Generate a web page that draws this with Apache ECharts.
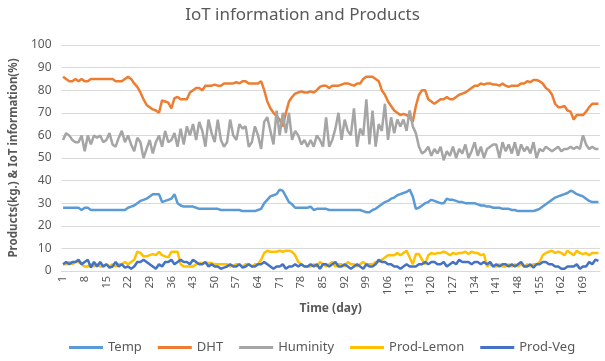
<!DOCTYPE html>
<html>
<head>
<meta charset="utf-8">
<script src="https://cdn.jsdelivr.net/npm/echarts@6/dist/echarts.min.js"></script>
<style>html,body{margin:0;padding:0;background:#fff}#c{width:605px;height:361px}</style>
</head>
<body>
<div id="c"></div>
<script>
const days = Array.from({length:174}, (_, i) => String(i + 1));
const yTicks = [0,10,20,30,40,50,60,70,80,90,100];

const temp = [
28,28,28,28,28,28,27,28,28,27,
27,27,27,27,27,27,27,27,27,27,
27,28,28.5,29,30,31,31.5,32,33,34,
34,34,30.5,31,31.5,32,34,30,29,28.5,
28.5,28.5,28.5,28,27.5,27.5,27.5,27.5,27.5,27.5,
27.5,27,27,27,27,27,27,27,26.5,26.5,
26.5,26.5,26.5,27,27.5,30,31.5,33,33.5,34,
36,35.5,33,30.5,29.5,28,28,28,28,28,
28.5,27,27.5,27.5,27.5,27.5,27,27,27,27,
27,27,27,27,27,27,27,26.5,26,26,
27,27.5,28.5,29.5,30.5,31,32,32.5,33.5,34,
34.5,35,36,33,27.5,28,29,30,30.5,31.5,
31,30.5,30,30,32,31.5,31.5,31,30.5,30.5,
30,30,30,30,29.5,29,29,28.5,28.5,28,
28,28,27.5,27.5,27.5,27,27,26.5,26.5,26.5,
26.5,26.5,26.5,27,27.5,28.5,29.5,30.5,31.5,32.5,
33,33.5,34,34.5,35.5,35,34,33.5,33,32,
31,30.5,30.5,30.5];

const dht = [
86,85,84,84,85,84,85,84,84,85,
85,85,85,85,85,85,85,84,84,84,
85,86,85,83,81.5,79,76,73.5,72.5,71.5,
71,70,75.5,75,74.5,72,76.5,77,76,76,
76,79,80,81,81,80,82,82,82,82.5,
82,82,83,83,83,83,83.5,83,84,84,
83,83,83,83,84,80,75,72,70,68.5,
67,64,70,75,77,78.5,79,79.5,79,79,
79.5,79,80,81.5,82,82,81,82,82,82,
82.5,83,83,82.5,82,83,83,85,86,86,
86,85,84,80,78,75,73,71,70,69,
69.5,69,68,66,73,78,80,80,76,75,
74,75,76,76,77,76,76,77,78,78.5,
79,80,81,82,82,83,82.5,83,83,82.5,
82.5,82,83,82,81.5,82,82,82,83,83,
84,83.5,84.5,84.5,84,83,81,80,78,74,
72.5,72.5,73,71,70.5,67,69,69,69,70.5,
72.5,74,74,74];

const humidity = [
58,61,60,58,57,57,60,53,60,56,
60,59,60,57,58,61,56,55,59,62,
57,60,56,53,59,57,50,54,58,52,
57,60,55,62,57,58,61,55,63,56,
64,60,65,58,66,62,55,67,61,57,
67,58,55,57,67,60,58,65,63,64,
55,57,64,60,54,66,68,62,56,71,
60,70,61,70,58,62,60,56,58,55,
58,55,60,58,55,68,55,58,63,70,
58,67,62,60,72,55,63,60,76,56,
71,55,65,62,74,58,68,61,67,64,
67,62,71,64,61,55,52,53,55,51,
54,52,55,49,53,51,55,50,54,52,
56,50,53,57,51,55,50,54,55,56,
56,50,57,53,56,52,57,51,56,53,
55,52,57,50,54,53,55,54,53,54,
55,53,54,54,55,54,55,54,60,56,
54,55,54,54];

const lemon = [
3,3,4,3,4,4,3,2,2,3,
2,3,2,2,3,2,3,2,3,3,
4,3,4,5,8.5,8,6.5,6.5,7,7.5,
7,8.5,7,6.5,6,8.5,8.5,8.5,3,2,
2,2,2,3,3.5,3.5,3.5,3.5,3.5,3,
3,3,3,3,2,2.5,3,3,2,3,
3,2,3,3,5,8,9,8.5,8.5,8.5,
9,8.5,9,9,8.5,7,4,3,2,2,
2,3,2,4,3,2,3,4,2,3,
3,2,4,3,3,2,3,4,3,3,
3,4,4,5,6,7,7,7,8,7,
8,9,6,3,7.5,7.5,5,3,7,8,
7.5,8,8,8.5,8,7,8,7.5,8,8,
8.5,7.5,8.5,8,8,7,7.5,2,3,2,
2,3,2,2,3,2,3,2,3,2,
3,2,3,3,4,7,8,8.5,9,8,
8.5,8,7,9,8,7,9,8,7.5,8,
7,8,8,8];

const veg = [
3,4,3,4,4,5,3,4,5,1.5,
4,2,4,2,3,1.5,2,4,2,3,
1.5,2,1,2,4,4,5,4,3,2,
1,3,2,4,4,5,3,4,5,4,
4,3,5,4,3,3,4,2,3,2,
2,1,1.5,2,3,2,2,3,1.5,2,
3,2,2,3,3,4,3,2,1,2,
2,3,1,2,2,3,2,3,2,2,
3,2,3,1,3,3,2,3,4,2,
2,3,2,1,2,3,2,1,3,2,
2,3,5,4,4,3,3,2,2,1,
2,3,2,2,2,3,3,4,3,4,
4,3,3,4,2,3,4,3,5,4,
4,4,3,4,4,3,4,3,4,2,
3,2,3,3,2,3,2,3,4,2,
2,3,1.5,3,3,4,4,3,3,2,
2,1,1,2,2,2,3,1,2,2,
4,3,5,4.5];

const names = ['Temp','DHT','Huminity','Prod-Lemon','Prod-Veg'];
const colors = ['#5B9BD5','#ED7D31','#A5A5A5','#FFC000','#4472C4'];
const datasets = [temp, dht, humidity, lemon, veg];

const chart = echarts.init(document.getElementById('c'));
const txt = '#595959';
chart.setOption({
  animation: false,
  textStyle: {fontFamily: 'Noto Sans'},
  title: {
    text: 'IoT information and Products',
    left: 'center', top: 2,
    textStyle: {fontSize: 17, fontWeight: 'normal', color: txt, fontFamily: 'Noto Sans'}
  },
  color: colors,
  legend: {
    bottom: 2, left: 64,
    icon: 'rect', itemWidth: 34, itemHeight: 3, itemGap: 16,
    textStyle: {fontSize: 13, color: txt},
    data: names
  },
  grid: {left: 60, right: 5, top: 45, bottom: 90},
  xAxis: {
    type: 'category', data: days, boundaryGap: true,
    name: 'Time (day)', nameLocation: 'middle', nameGap: 28,
    nameTextStyle: {fontSize: 12, fontWeight: 'bold', color: txt},
    axisLine: {lineStyle: {color: '#d9d9d9'}},
    axisTick: {show: false},
    axisLabel: {interval: 6, rotate: 90, fontSize: 11, color: txt, margin: 5}
  },
  yAxis: {
    type: 'value', min: yTicks[0], max: yTicks[yTicks.length-1], interval: 10,
    name: 'Products(kg.) & IoT information(%)', nameLocation: 'middle', nameGap: 40,
    nameTextStyle: {fontSize: 11.5, fontWeight: 'bold', color: txt},
    axisLine: {show: false}, axisTick: {show: false},
    axisLabel: {fontSize: 12, color: txt, margin: 10},
    splitLine: {lineStyle: {color: '#d9d9d9'}}
  },
  series: datasets.map((d, i) => ({
    name: names[i], type: 'line', data: d, showSymbol: false,
    lineStyle: {width: 2.5, color: colors[i]}, itemStyle: {color: colors[i]}
  }))
});
</script>
</body>
</html>
